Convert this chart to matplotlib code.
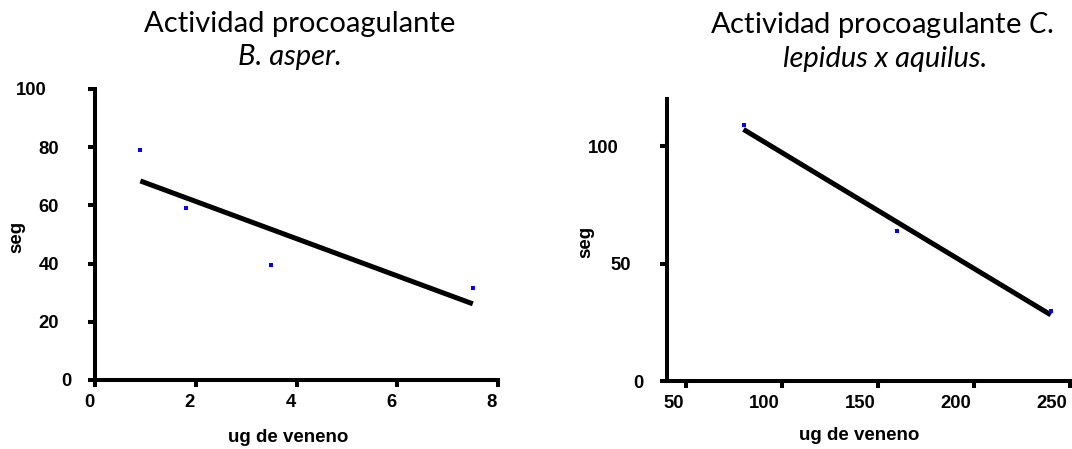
import numpy as np
import matplotlib
matplotlib.use("Agg")
import matplotlib.pyplot as plt
import matplotlib.transforms as mtransforms

plt.rcParams['mathtext.fontset'] = 'custom'
plt.rcParams['mathtext.rm'] = 'Lato'
plt.rcParams['mathtext.it'] = 'Lato:italic'

# ---- data ----
asper_dose = [0.9, 1.8, 3.5, 7.5]
asper_time = [79.0, 59.0, 39.5, 31.5]
lep_dose = [80, 160, 240]
lep_time = [109.0, 64.0, 30.0]

asper_xticks = [0, 2, 4, 6, 8]
asper_yticks = [0, 20, 40, 60, 80, 100]
lep_xticks = [50, 100, 150, 200, 250]
lep_yticks = [0, 50, 100]

xlabel = "ug de veneno"
ylabel = "seg"

W, H = 1072, 449
fig = plt.figure(figsize=(W / 100, H / 100), dpi=100)

def px_axes(x0, x1, ytop, ybot):
    return fig.add_axes([x0 / W, 1 - ybot / H, (x1 - x0) / W, (ybot - ytop) / H])

ax1 = px_axes(95, 498, 89, 380)
ax2 = px_axes(666.7, 1070, 99.3, 381)

SPINE_W = 2.9

def style(ax, x, y, xticks, yticks, xlim, ylim, xl_pos, yl_pos):
    coef = np.polyfit(x, y, 1)
    xs = np.array([min(x), max(x)])
    ax.plot(xs, np.polyval(coef, xs), color='black', lw=3.6,
            solid_capstyle='butt', zorder=2)
    ax.plot(x, y, 's', color='#0000ff', ms=2.3, mew=0, zorder=3)
    ax.set_xlim(*xlim)
    ax.set_ylim(*ylim)
    for s in ['top', 'right']:
        ax.spines[s].set_visible(False)
    for s in ['left', 'bottom']:
        ax.spines[s].set_linewidth(SPINE_W)
    ax.tick_params(axis='both', direction='out', length=5, width=SPINE_W, color='black')
    ax.tick_params(axis='y', pad=20.9)
    ax.tick_params(axis='x', pad=4.8)
    ax.set_xticks(xticks, labels=[str(v) for v in xticks])
    ax.set_yticks(yticks, labels=[str(v) for v in yticks])
    for lab in ax.get_xticklabels() + ax.get_yticklabels():
        lab.set_fontfamily('Liberation Sans')
        lab.set_fontweight('bold')
        lab.set_fontsize(13.3)
    for lab in ax.get_yticklabels():
        n = len(lab.get_text())
        dx = (2 - n) * 12.3
        lab.set_transform(lab.get_transform() +
                          mtransforms.ScaledTranslation(dx / 100, 0, fig.dpi_scale_trans))
    for lab in ax.get_xticklabels():
        n = len(lab.get_text())
        dx = -6 * n
        lab.set_transform(lab.get_transform() +
                          mtransforms.ScaledTranslation(dx / 100, 0, fig.dpi_scale_trans))
    ax.set_xlabel(xlabel, fontfamily='Liberation Sans', fontweight='bold', fontsize=13.5,
                  va='center', ha='center')
    ax.set_ylabel(ylabel, fontfamily='Liberation Sans', fontweight='bold', fontsize=13.5,
                  va='center', ha='center')
    ax.xaxis.set_label_coords(*xl_pos)
    ax.yaxis.set_label_coords(*yl_pos)

style(ax1, asper_dose, asper_time, asper_xticks, asper_yticks, (0, 8), (0, 100),
      (0.479, -0.198), (-0.194, 0.492))
style(ax2, lep_dose, lep_time, lep_xticks, lep_yticks, (40, 250), (0, 120),
      (0.477, -0.192), (-0.201, 0.492))

tfont = dict(family='Lato', size=21, color='black', ha='center', va='baseline')
fig.text(300 / W, 1 - 32 / H, "Actividad procoagulante", **tfont)
fig.text(290 / W, 1 - 65 / H, "B. asper.", style='italic', **tfont)
fig.text(881.5 / W, 1 - 33 / H, r"Actividad procoagulante $\mathit{C.}$", **tfont)
fig.text(885 / W, 1 - 67 / H, "lepidus x aquilus.", style='italic', **tfont)

fig.savefig("out.png", dpi=100)
